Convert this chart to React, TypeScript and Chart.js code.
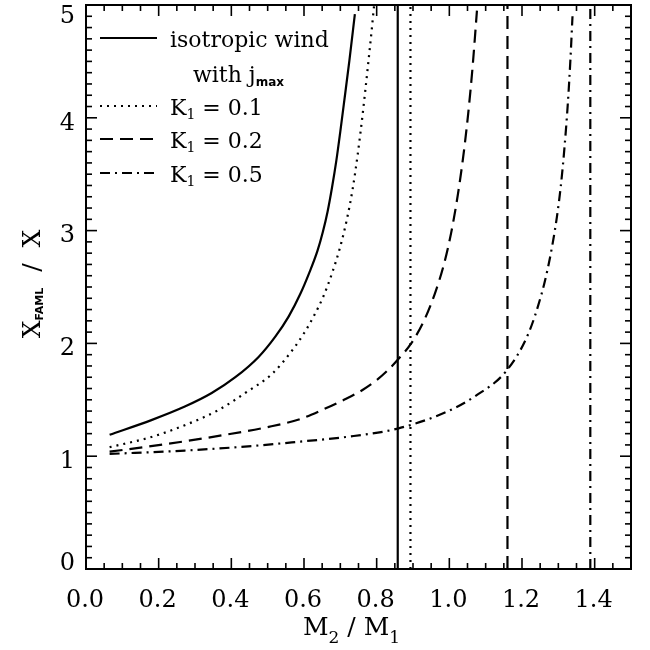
import { useEffect, useRef } from 'react';
import { Chart, registerables } from 'chart.js';

Chart.register(...registerables);

// ---- axes ----
const xMin = 0;
const xMax = 1.5;
const yMin = 0;
const yMax = 5;
const xTickValues = [0, 0.2, 0.4, 0.6, 0.8, 1.0, 1.2, 1.4];
const xTickLabels = ['0.0', '0.2', '0.4', '0.6', '0.8', '1.0', '1.2', '1.4'];
const yTickValues = [0, 1, 2, 3, 4, 5];
const yTickLabels = ['0', '1', '2', '3', '4', '5'];

// ---- series ----
// isotropic wind (solid)
const isoX = [0.065, 0.18, 0.272, 0.346, 0.411, 0.475, 0.521, 0.558, 0.59, 0.615, 0.637, 0.652, 0.665, 0.677, 0.689, 0.70, 0.712, 0.725, 0.74];
const isoY = [1.19, 1.32, 1.44, 1.56, 1.70, 1.88, 2.06, 2.24, 2.44, 2.63, 2.82, 2.99, 3.17, 3.38, 3.62, 3.88, 4.18, 4.51, 4.92];
const isoAsymX = 0.858;
// with j_max, K1 = 0.1 (dotted)
const k01X = [0.065, 0.18, 0.272, 0.365, 0.438, 0.512, 0.568, 0.60, 0.63, 0.655, 0.678, 0.70, 0.718, 0.734, 0.748, 0.761, 0.774, 0.787, 0.793];
const k01Y = [1.08, 1.17, 1.275, 1.41, 1.56, 1.73, 1.94, 2.09, 2.26, 2.43, 2.63, 2.86, 3.10, 3.37, 3.68, 4.02, 4.40, 4.80, 5.0];
const k01AsymX = 0.893;
// K1 = 0.2 (dashed)
const k02X = [0.065, 0.226, 0.365, 0.503, 0.59, 0.65, 0.71, 0.76, 0.80, 0.83, 0.858, 0.895, 0.93, 0.96, 0.985, 1.005, 1.024, 1.04, 1.052, 1.064, 1.076];
const k02Y = [1.04, 1.11, 1.18, 1.26, 1.33, 1.41, 1.50, 1.585, 1.675, 1.76, 1.855, 2.0, 2.20, 2.44, 2.70, 2.98, 3.33, 3.70, 4.04, 4.45, 4.95];
const k02AsymX = 1.16;
// K1 = 0.5 (dash-dot)
const k05X = [0.065, 0.272, 0.457, 0.591, 0.715, 0.858, 0.99, 1.07, 1.158, 1.218, 1.254, 1.27, 1.284, 1.296, 1.307, 1.317, 1.326, 1.333, 1.339];
const k05Y = [1.02, 1.05, 1.09, 1.13, 1.17, 1.245, 1.39, 1.53, 1.76, 2.09, 2.44, 2.65, 2.88, 3.12, 3.40, 3.74, 4.12, 4.50, 4.90];
const k05AsymX = 1.388;
const asymY = [0, 5];

const seriesNames = ['isotropic wind', 'K1 = 0.1', 'K1 = 0.2', 'K1 = 0.5'];

const DASH_SOLID: number[] = [];
const DASH_DOT = [2, 5];
const DASH_DASH = [13, 7];
const DASH_DASHDOT = [10, 5, 2, 5];

const SERIF = "'DejaVu Serif', serif";
const SANS = "'DejaVu Sans', sans-serif";

type Part = { t: string; font: string; dy?: number };

function drawRich(ctx: CanvasRenderingContext2D, x: number, y: number, parts: Part[]) {
  let cx = x;
  for (const p of parts) {
    ctx.font = p.font;
    ctx.fillText(p.t, cx, y + (p.dy || 0));
    cx += ctx.measureText(p.t).width;
  }
  return cx - x;
}

function richWidth(ctx: CanvasRenderingContext2D, parts: Part[]) {
  let w = 0;
  for (const p of parts) {
    ctx.font = p.font;
    w += ctx.measureText(p.t).width;
  }
  return w;
}

const decorPlugin = {
  id: 'decor',
  afterDatasetsDraw(chart: any) {
    const { ctx, chartArea: a, scales } = chart;
    const xs = scales.x;
    const ys = scales.y;
    ctx.save();
    ctx.strokeStyle = '#000';
    ctx.fillStyle = '#000';
    ctx.setLineDash([]);

    // frame
    ctx.lineWidth = 2;
    ctx.strokeRect(a.left, a.top, a.right - a.left, a.bottom - a.top);

    // inward ticks on all four sides
    ctx.lineWidth = 1.6;
    const seg = (x1: number, y1: number, x2: number, y2: number) => {
      ctx.beginPath();
      ctx.moveTo(x1, y1);
      ctx.lineTo(x2, y2);
      ctx.stroke();
    };
    for (let i = 1; i < 30; i++) {
      const v = i * 0.05;
      const len = i % 4 === 0 ? 11 : 6;
      const px = xs.getPixelForValue(v);
      seg(px, a.bottom, px, a.bottom - len);
      seg(px, a.top, px, a.top + len);
    }
    for (let i = 1; i < 50; i++) {
      const v = i * 0.1;
      const len = i % 10 === 0 ? 11 : 6;
      const py = ys.getPixelForValue(v);
      seg(a.left, py, a.left + len, py);
      seg(a.right, py, a.right - len, py);
    }

    // tick labels
    ctx.font = `24px ${SERIF}`;
    ctx.textBaseline = 'alphabetic';
    ctx.textAlign = 'center';
    xTickValues.forEach((v, i) => {
      const px = xs.getPixelForValue(v);
      ctx.fillText(xTickLabels[i], px - 1, a.bottom + 38);
    });
    ctx.textAlign = 'right';
    yTickValues.forEach((v, i) => {
      const py = ys.getPixelForValue(v);
      const c = Math.min(Math.max(py + 3, a.top + 9.5), a.bottom - 8);
      ctx.fillText(yTickLabels[i], a.left - 11, c + 8.7);
    });

    // x title: M2 / M1
    ctx.textAlign = 'left';
    const xt: Part[] = [
      { t: 'M', font: `25px ${SERIF}` },
      { t: '2', font: `17px ${SERIF}`, dy: 8 },
      { t: ' / ', font: `25px ${SERIF}` },
      { t: 'M', font: `25px ${SERIF}` },
      { t: '1', font: `17px ${SERIF}`, dy: 8 },
    ];
    const xw = richWidth(ctx, xt);
    const xc = (a.left + a.right) / 2 - 7;
    drawRich(ctx, xc - xw / 2, a.bottom + 66, xt);

    // y title: X_FAML / X
    const yt: Part[] = [
      { t: 'X', font: `25px ${SERIF}` },
      { t: 'FAML', font: `bold 11px ${SANS}`, dy: 3 },
      { t: '  /  X', font: `25px ${SERIF}` },
    ];
    const yw = richWidth(ctx, yt);
    ctx.save();
    ctx.translate(40, (a.top + a.bottom) / 2 - 3);
    ctx.rotate(-Math.PI / 2);
    drawRich(ctx, -yw / 2, 0, yt);
    ctx.restore();

    // legend
    const lf = `22px ${SERIF}`;
    const sub = `14px ${SERIF}`;
    const rows: { dash: number[] | null; parts: Part[]; tx: number; base: number }[] = [
      { dash: DASH_SOLID, parts: [{ t: seriesNames[0], font: lf }], tx: 84, base: 42 },
      { dash: null, parts: [{ t: 'with j', font: lf }, { t: 'max', font: `bold 12px ${SANS}`, dy: 4 }], tx: 107, base: 77 },
      { dash: DASH_DOT, parts: [{ t: 'K', font: lf }, { t: '1', font: sub, dy: 4 }, { t: ' = 0.1', font: lf }], tx: 84, base: 110 },
      { dash: DASH_DASH, parts: [{ t: 'K', font: lf }, { t: '1', font: sub, dy: 4 }, { t: ' = 0.2', font: lf }], tx: 84, base: 143 },
      { dash: DASH_DASHDOT, parts: [{ t: 'K', font: lf }, { t: '1', font: sub, dy: 4 }, { t: ' = 0.5', font: lf }], tx: 84, base: 177 },
    ];
    rows.forEach((r) => {
      const by = a.top + r.base;
      if (r.dash) {
        ctx.lineWidth = 2;
        ctx.setLineDash(r.dash);
        ctx.lineCap = 'butt';
        seg(a.left + 14, by - 9, a.left + 71, by - 9);
        ctx.setLineDash([]);
      }
      drawRich(ctx, a.left + r.tx, by, r.parts);
    });

    ctx.restore();
  },
};

function pts(xs: number[], ys: number[]) {
  return xs.map((x, i) => ({ x, y: ys[i] }));
}

function vline(x: number) {
  return asymY.map((y) => ({ x, y }));
}

export default function App() {
  const ref = useRef<HTMLCanvasElement | null>(null);

  useEffect(() => {
    document.body.style.margin = '0';
    const canvas = ref.current;
    if (!canvas) return;
    const base = {
      showLine: true,
      pointRadius: 0,
      borderColor: '#000',
      backgroundColor: '#000',
      borderWidth: 2.2,
      fill: false,
    };
    const curve = { ...base, cubicInterpolationMode: 'monotone' as const };
    const chart = new Chart(canvas, {
      type: 'scatter',
      data: {
        datasets: [
          { ...curve, label: seriesNames[0], data: pts(isoX, isoY), borderDash: DASH_SOLID },
          { ...base, label: seriesNames[0] + ' asym', data: vline(isoAsymX), borderDash: DASH_SOLID },
          { ...curve, label: seriesNames[1], data: pts(k01X, k01Y), borderDash: DASH_DOT },
          { ...base, label: seriesNames[1] + ' asym', data: vline(k01AsymX), borderDash: DASH_DOT },
          { ...curve, label: seriesNames[2], data: pts(k02X, k02Y), borderDash: DASH_DASH },
          { ...base, label: seriesNames[2] + ' asym', data: vline(k02AsymX), borderDash: DASH_DASH },
          { ...curve, label: seriesNames[3], data: pts(k05X, k05Y), borderDash: DASH_DASHDOT },
          { ...base, label: seriesNames[3] + ' asym', data: vline(k05AsymX), borderDash: DASH_DASHDOT },
        ],
      },
      options: {
        responsive: false,
        animation: false,
        events: [],
        layout: { padding: { top: 5, right: 19, left: 0, bottom: 0 } },
        plugins: { legend: { display: false }, tooltip: { enabled: false }, title: { display: false } },
        scales: {
          x: {
            type: 'linear',
            min: xMin,
            max: xMax,
            grid: { display: false, drawTicks: false },
            border: { display: false },
            ticks: { display: false },
            afterFit: (s: any) => {
              s.height = 81;
            },
          },
          y: {
            type: 'linear',
            min: yMin,
            max: yMax,
            grid: { display: false, drawTicks: false },
            border: { display: false },
            ticks: { display: false },
            afterFit: (s: any) => {
              s.width = 86;
            },
          },
        },
      },
      plugins: [decorPlugin],
    });
    return () => chart.destroy();
  }, []);

  return (
    <div style={{ width: 650, height: 650, background: '#fff' }}>
      <canvas ref={ref} width={650} height={650} />
    </div>
  );
}
